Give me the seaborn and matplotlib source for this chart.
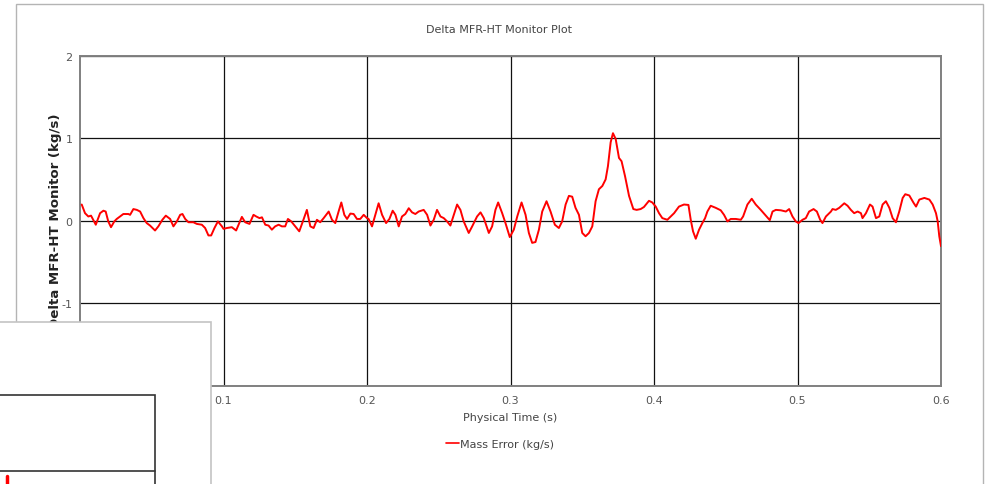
import numpy as np
import pandas as pd
import matplotlib
matplotlib.use("Agg")
import matplotlib.pyplot as plt
from matplotlib.patches import Rectangle
from matplotlib.lines import Line2D
import seaborn as sns

title = "Delta MFR-HT Monitor Plot"
x_label = "Physical Time (s)"
y_label = "Delta MFR-HT Monitor (kg/s)"
series_name = "Mass Error (kg/s)"
x_ticks = [0.1, 0.2, 0.3, 0.4, 0.5, 0.6]
x_ticklabels = ["0.1", "0.2", "0.3", "0.4", "0.5", "0.6"]
y_ticks = [-2, -1, 0, 1, 2]
y_ticklabels = ["-2", "-1", "0", "1", "2"]

time_s = [
    0.0012, 0.0035, 0.0058, 0.0077, 0.0110, 0.0140, 0.0163, 0.0179, 0.0197, 0.0216,
    0.0239, 0.0256, 0.0279, 0.0302, 0.0337, 0.0349, 0.0372, 0.0396, 0.0419, 0.0442,
    0.0465, 0.0488, 0.0523, 0.0546, 0.0574, 0.0598, 0.0628, 0.0651, 0.0675, 0.0698,
    0.0714, 0.0733, 0.0756, 0.0790, 0.0814, 0.0849, 0.0872, 0.0895, 0.0914, 0.0937,
    0.0961, 0.0989, 0.1000, 0.1023, 0.1058, 0.1088, 0.1112, 0.1128, 0.1151, 0.1181,
    0.1209, 0.1228, 0.1251, 0.1268, 0.1291, 0.1314, 0.1337, 0.1360, 0.1384, 0.1407,
    0.1430, 0.1449, 0.1472, 0.1500, 0.1528, 0.1553, 0.1581, 0.1605, 0.1628, 0.1651,
    0.1674, 0.1698, 0.1733, 0.1756, 0.1779, 0.1802, 0.1821, 0.1842, 0.1861, 0.1884,
    0.1907, 0.1930, 0.1953, 0.1977, 0.2000, 0.2011, 0.2035, 0.2058, 0.2081, 0.2105,
    0.2133, 0.2156, 0.2179, 0.2198, 0.2221, 0.2244, 0.2267, 0.2291, 0.2314, 0.2337,
    0.2360, 0.2395, 0.2419, 0.2442, 0.2465, 0.2488, 0.2512, 0.2535, 0.2558, 0.2581,
    0.2605, 0.2628, 0.2651, 0.2674, 0.2709, 0.2733, 0.2767, 0.2791, 0.2814, 0.2849,
    0.2872, 0.2895, 0.2914, 0.2942, 0.2965, 0.2995, 0.3023, 0.3047, 0.3077, 0.3105,
    0.3128, 0.3151, 0.3174, 0.3198, 0.3221, 0.3251, 0.3279, 0.3309, 0.3337, 0.3360,
    0.3384, 0.3407, 0.3430, 0.3453, 0.3477, 0.3500, 0.3523, 0.3547, 0.3570, 0.3593,
    0.3616, 0.3640, 0.3663, 0.3679, 0.3698, 0.3714, 0.3733, 0.3756, 0.3774, 0.3798,
    0.3826, 0.3856, 0.3879, 0.3907, 0.3930, 0.3965, 0.3988, 0.4012, 0.4035, 0.4058,
    0.4093, 0.4116, 0.4140, 0.4174, 0.4209, 0.4240, 0.4256, 0.4272, 0.4291, 0.4314,
    0.4337, 0.4356, 0.4372, 0.4395, 0.4430, 0.4465, 0.4488, 0.4512, 0.4535, 0.4570,
    0.4605, 0.4621, 0.4651, 0.4681, 0.4709, 0.4744, 0.4779, 0.4807, 0.4826, 0.4849,
    0.4884, 0.4919, 0.4942, 0.4965, 0.4988, 0.5007, 0.5035, 0.5058, 0.5081, 0.5112,
    0.5135, 0.5158, 0.5174, 0.5198, 0.5233, 0.5244, 0.5267, 0.5291, 0.5326, 0.5349,
    0.5372, 0.5395, 0.5419, 0.5442, 0.5453, 0.5477, 0.5505, 0.5523, 0.5547, 0.5570,
    0.5593, 0.5616, 0.5640, 0.5663, 0.5686, 0.5709, 0.5733, 0.5751, 0.5779, 0.5809,
    0.5826, 0.5849, 0.5884, 0.5919, 0.5942, 0.5965, 0.5977, 0.5988, 0.6000,
]
mass_error = [
    0.195, 0.09, 0.05, 0.06, -0.05, 0.09, 0.12, 0.11, -0.01, -0.08,
    -0.01, 0.02, 0.05, 0.08, 0.08, 0.07, 0.14, 0.13, 0.11, 0.03,
    -0.03, -0.06, -0.12, -0.07, 0.01, 0.06, 0.02, -0.07, -0.01, 0.07,
    0.08, 0.02, -0.02, -0.02, -0.04, -0.05, -0.09, -0.18, -0.18, -0.09,
    -0.01, -0.07, -0.10, -0.09, -0.08, -0.12, -0.02, 0.045, -0.02, -0.04,
    0.07, 0.05, 0.03, 0.04, -0.05, -0.06, -0.11, -0.07, -0.05, -0.07,
    -0.07, 0.02, -0.01, -0.07, -0.13, -0.01, 0.13, -0.07, -0.09, 0.01,
    -0.02, 0.03, 0.11, 0.01, -0.03, 0.11, 0.22, 0.07, 0.02, 0.085,
    0.08, 0.02, 0.02, 0.07, 0.03, 0.02, -0.07, 0.07, 0.21, 0.07,
    -0.03, 0.02, 0.12, 0.07, -0.07, 0.05, 0.08, 0.15, 0.10, 0.08,
    0.11, 0.13, 0.07, -0.06, 0.01, 0.13, 0.05, 0.03, -0.01, -0.06,
    0.07, 0.195, 0.13, -0.01, -0.15, -0.07, 0.05, 0.10, 0.03, -0.15,
    -0.07, 0.13, 0.22, 0.09, -0.03, -0.20, -0.11, 0.05, 0.22, 0.07,
    -0.15, -0.27, -0.26, -0.11, 0.11, 0.235, 0.11, -0.05, -0.09, -0.01,
    0.195, 0.30, 0.29, 0.155, 0.07, -0.15, -0.19, -0.15, -0.07, 0.235,
    0.38, 0.42, 0.50, 0.66, 0.95, 1.06, 0.99, 0.76, 0.72, 0.54,
    0.30, 0.14, 0.13, 0.14, 0.165, 0.24, 0.22, 0.17, 0.09, 0.03,
    0.01, 0.05, 0.09, 0.17, 0.195, 0.19, 0.01, -0.13, -0.22, -0.11,
    -0.03, 0.03, 0.11, 0.18, 0.155, 0.125, 0.07, -0.01, 0.02, 0.02,
    0.01, 0.05, 0.195, 0.265, 0.195, 0.13, 0.06, 0.005, 0.11, 0.13,
    0.125, 0.11, 0.14, 0.05, -0.01, -0.03, 0.01, 0.03, 0.11, 0.14,
    0.11, 0.01, -0.03, 0.05, 0.11, 0.14, 0.13, 0.155, 0.21, 0.18,
    0.13, 0.09, 0.11, 0.09, 0.03, 0.09, 0.195, 0.17, 0.03, 0.05,
    0.195, 0.235, 0.155, 0.03, -0.02, 0.11, 0.275, 0.32, 0.305, 0.215,
    0.17, 0.255, 0.275, 0.255, 0.195, 0.09, -0.01, -0.19, -0.31,
]

df = pd.DataFrame({"t": time_s, "v": mass_error})

sns.set_style("white")
plt.rcParams["font.family"] = ["DejaVu Sans"]

W, H = 989, 485
fig = plt.figure(figsize=(W / 100, H / 100), dpi=100)
fig.patch.set_facecolor("white")

left, right, top, bottom = 80, 941, 56.7, 386.5
ax = fig.add_axes([left / W, (H - bottom) / H, (right - left) / W, (bottom - top) / H])

sns.lineplot(data=df, x="t", y="v", ax=ax, color="#ff0000", linewidth=1.4,
             label=series_name, legend=False, zorder=3)

ax.set_xlim(0, 0.6)
ax.set_ylim(-2, 2)
ax.set_xticks(x_ticks)
ax.set_xticklabels(x_ticklabels)
ax.set_xticks([0.05, 0.15, 0.25, 0.35, 0.45, 0.55], minor=True)
ax.set_yticks(y_ticks)
ax.set_yticklabels(y_ticklabels)
ax.set_yticks([-1.5, -0.5, 0.5, 1.5], minor=True)

ax.grid(True, which="major", color="#111111", linewidth=0.9)
ax.set_axisbelow(True)
for s in ax.spines.values():
    s.set_color("#808080")
    s.set_linewidth(1.4)

ax.tick_params(axis="both", which="both", direction="inout", color="#444444",
               labelcolor="#555555", labelsize=8)
ax.tick_params(axis="both", which="major", length=5, width=0.9, pad=3)
ax.tick_params(axis="both", which="minor", length=5, width=0.9)
ax.tick_params(axis="x", which="major", pad=4)
ax.set_xlabel("")
ax.set_ylabel("")

fig.text(499 / W, (H - 30) / H, title, ha="center", va="center",
         fontsize=8, color="#444444")
fig.text(510 / W, (H - 418) / H, x_label, ha="center", va="center",
         fontsize=8, color="#444444")
fig.text(55.5 / W, (H - 221) / H, y_label, ha="center", va="center",
         rotation=90, fontsize=9.6, fontweight="bold", color="#222222")

handle = Line2D([], [], color="#ff0000", linewidth=1.2)
fig.legend([handle], [series_name], loc="center",
           bbox_to_anchor=(500 / W, (H - 445) / H), frameon=False,
           fontsize=8, handlelength=1.1, handletextpad=0.1, labelcolor="#444444")

# outer panel frame
fig.add_artist(Rectangle((16 / W, -0.1), (983 - 16) / W, (H - 4.5) / H + 0.1,
                         transform=fig.transFigure, facecolor="none",
                         edgecolor="#b4b4b4", linewidth=1.0, zorder=-1))
# overlapping window in the lower left
fig.add_artist(Rectangle((-0.01, -0.1), 211 / W + 0.01, (H - 323) / H + 0.1,
                         transform=fig.transFigure, facecolor="white",
                         edgecolor="#c4c4c4", linewidth=1.2, zorder=10))
fig.add_artist(Rectangle((-0.01, -0.1), 155 / W + 0.01, (H - 395.7) / H + 0.1,
                         transform=fig.transFigure, facecolor="none",
                         edgecolor="#333333", linewidth=1.2, zorder=11))
fig.add_artist(Line2D([0, 155 / W], [(H - 472) / H, (H - 472) / H],
                      transform=fig.transFigure, color="#333333",
                      linewidth=1.2, zorder=11))
fig.add_artist(Line2D([7 / W, 7 / W], [(H - 477) / H, 0],
                      transform=fig.transFigure, color="#ff0000",
                      linewidth=2.5, zorder=12))

fig.savefig("out.png", dpi=100)
